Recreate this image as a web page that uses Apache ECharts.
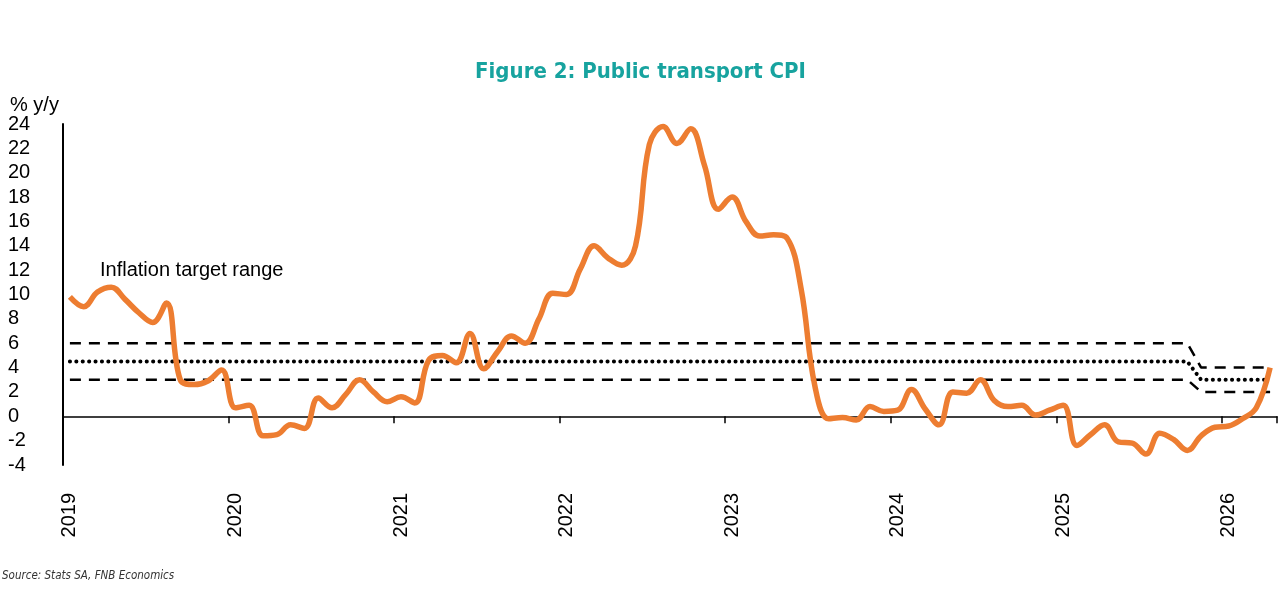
<!DOCTYPE html>
<html>
<head>
<meta charset="utf-8">
<script src="https://cdn.jsdelivr.net/npm/echarts@6/dist/echarts.min.js"></script>
<style>
  html, body { margin: 0; padding: 0; background: #fff; }
  #chart { width: 1281px; height: 596px; }
</style>
</head>
<body>
<div id="chart"></div>
<script>
/**
 * Public transport CPI, % y/y, with the inflation target range
 */
var years = ['2019', '2020', '2021', '2022', '2023', '2024', '2025', '2026'];
var monthsIn = [12, 12, 12, 12, 12, 12, 12, 4];

var cpi2019 = [9.8, 9.0, 10.2, 10.6, 9.6, 8.5, 7.7, 9.3, 3.0, 2.6, 2.9, 3.8];
var cpi2020 = [0.7, 0.9, -1.6, -1.5, -0.7, -1.0, 1.5, 0.7, 1.8, 3.0, 2.0, 1.2];
var cpi2021 = [1.6, 1.1, 4.6, 5.0, 4.4, 6.8, 3.9, 5.3, 6.6, 6.0, 8.0, 10.1];
var cpi2022 = [10.0, 12.1, 14.0, 13.0, 12.4, 14.0, 22.3, 23.8, 22.4, 23.6, 20.6, 17.0];
var cpi2023 = [18.0, 16.0, 14.8, 14.9, 14.6, 10.5, 2.5, -0.2, -0.1, -0.3, 0.8, 0.4];
var cpi2024 = [0.5, 2.2, 0.6, -0.7, 2.0, 1.9, 3.0, 1.3, 0.8, 0.9, 0.1, 0.5];
var cpi2025 = [0.9, -2.4, -1.5, -0.7, -2.1, -2.2, -3.1, -1.4, -1.9, -2.8, -1.6, -0.9];
var cpi2026 = [-0.8, -0.2, 0.7, 4.0];

// target band: old 3-6% (midpoint 4.5) through Oct 2025, new 2-4% (midpoint 3) from Nov 2025
var oldUpper = 6, oldMid = 4.5, oldLower = 3;
var newUpper = 4, newMid = 3, newLower = 2;
var oldMonths = 82, newMonths = 6;

var months = [];
for (var y = 0; y < years.length; y++) {
	for (var m = 1; m <= monthsIn[y]; m++) {
		months.push(years[y] + '-' + (m < 10 ? '0' + m : m));
	}
}
var cpi = [].concat(cpi2019, cpi2020, cpi2021, cpi2022, cpi2023, cpi2024, cpi2025, cpi2026);

function band(oldV, newV) {
	var out = [];
	for (var i = 0; i < oldMonths; i++) out.push(oldV);
	for (var j = 0; j < newMonths; j++) out.push(newV);
	return out;
}

var myChart = echarts.init(document.getElementById('chart'));
var option = {
	animation: false,
	textStyle: { fontFamily: 'Liberation Sans, Arial, sans-serif' },
	title: [
		{
			text: 'Figure 2: Public transport CPI',
			left: 'center',
			top: 56,
			textStyle: {
				fontFamily: 'DejaVu Sans Condensed, sans-serif',
				fontWeight: 'bold',
				fontSize: 22,
				color: '#17a39f'
			}
		},
		{
			text: '% y/y',
			left: 5,
			top: 90,
			textStyle: { fontSize: 20, fontWeight: 'normal', color: '#000' }
		},
		{
			text: 'Inflation target range',
			left: 95,
			top: 255,
			textStyle: { fontSize: 20, fontWeight: 'normal', color: '#000' }
		},
		{
			text: 'Source: Stats SA, FNB Economics',
			left: -3,
			top: 565,
			textStyle: {
				fontFamily: 'DejaVu Sans Condensed, sans-serif',
				fontStyle: 'italic',
				fontWeight: 'normal',
				fontSize: 11.5,
				color: '#333'
			}
		}
	],
	grid: {
		left: 63,
		right: 4,
		top: 124,
		bottom: 131
	},
	xAxis: {
		type: 'category',
		data: months,
		boundaryGap: true,
		axisLine: {
			onZero: true,
			lineStyle: { color: '#000', width: 1.5 }
		},
		axisTick: {
			show: true,
			length: 7,
			interval: function (i) { return i % 12 === 0; },
			lineStyle: { color: '#000', width: 1.5 }
		},
		axisLabel: {
			interval: function (i) { return i % 12 === 0; },
			formatter: function (v) { return v.slice(0, 4); },
			rotate: 90,
			margin: 28,
			fontSize: 20,
			color: '#000'
		},
		splitLine: { show: false }
	},
	yAxis: {
		type: 'value',
		min: -4,
		max: 24,
		interval: 2,
		axisLine: {
			show: true,
			lineStyle: { color: '#000', width: 2 }
		},
		axisTick: { show: false },
		axisLabel: {
			align: 'left',
			margin: 55,
			fontSize: 20,
			color: '#000'
		},
		splitLine: { show: false }
	},
	series: [
		{
			name: 'Upper',
			type: 'line',
			data: band(oldUpper, newUpper),
			symbol: 'none',
			lineStyle: { color: '#000', width: 2.5, type: [11, 8] },
			z: 2
		},
		{
			name: 'Midpoint',
			type: 'line',
			data: band(oldMid, newMid),
			symbol: 'none',
			lineStyle: { color: '#000', width: 4, type: [0.1, 6.3], cap: 'round' },
			z: 2
		},
		{
			name: 'Lower',
			type: 'line',
			data: band(oldLower, newLower),
			symbol: 'none',
			lineStyle: { color: '#000', width: 2.5, type: [11, 8] },
			z: 2
		},
		{
			name: 'Public transport CPI',
			type: 'line',
			data: cpi,
			symbol: 'none',
			smooth: 0.4,
			lineStyle: { color: '#ed7d31', width: 5.5 },
			z: 3
		}
	]
};
myChart.setOption(option);
</script>
</body>
</html>
